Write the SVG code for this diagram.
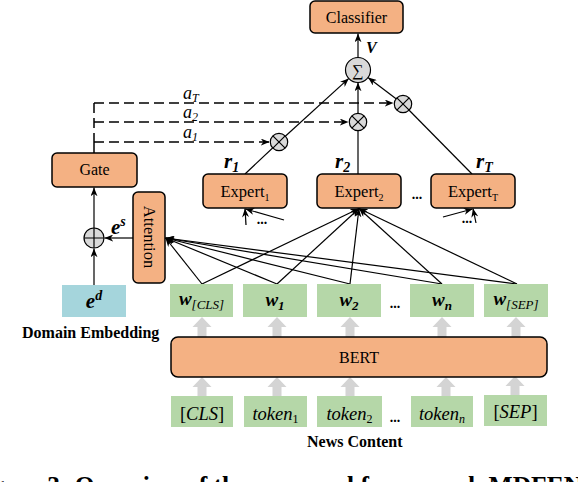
<svg xmlns="http://www.w3.org/2000/svg" width="578" height="482" viewBox="0 0 578 482">
<defs>
<style>
.box{fill:#f4b183;stroke:#000;stroke-width:1.5}
.wbox{fill:#b5d7a8}
.dbox{fill:#a5d5dc}
.t{font-family:"Liberation Serif",serif;fill:#000}
.bi{font-family:"Liberation Serif",serif;font-weight:bold;font-style:italic;fill:#000}
.it{font-family:"Liberation Serif",serif;font-style:italic;fill:#000}
.b{font-family:"Liberation Serif",serif;font-weight:bold;fill:#000}
.ln{stroke:#000;stroke-width:1.2;fill:none}
.dash{stroke:#000;stroke-width:1.5;fill:none;stroke-dasharray:10 5}
.op{fill:#d9d9d9;stroke:#000;stroke-width:1.2}
.ga{fill:#d4d4d4}
</style>
<marker id="ah" viewBox="0 0 10 8" refX="10" refY="4" markerWidth="9" markerHeight="7" markerUnits="userSpaceOnUse" orient="auto"><path d="M0,0 L10,4 L0,8 L3,4 z" fill="#000"/></marker>
<path id="garrow" d="M0,0 L9.5,10 L4.5,10 L4.5,20 L-4.5,20 L-4.5,10 L-9.5,10 Z"/>
</defs>
<rect width="578" height="482" fill="#fff"/>

<g id="gray-arrows" class="ga">
<use href="#garrow" x="202" y="317"/>
<use href="#garrow" x="277" y="317"/>
<use href="#garrow" x="350" y="317"/>
<use href="#garrow" x="442" y="317"/>
<use href="#garrow" x="516" y="317"/>
<use href="#garrow" x="202" y="377"/>
<use href="#garrow" x="277" y="377"/>
<use href="#garrow" x="350" y="377"/>
<use href="#garrow" x="446" y="377"/>
<use href="#garrow" x="515" y="376"/>
</g>

<g id="connectors">
<path class="ln" d="M358,57.5 L358,33.5" marker-end="url(#ah)"/>
<path class="ln" d="M245,174 L279,142"/>
<path class="ln" d="M279,142 L348.8,78.4" marker-end="url(#ah)"/>
<path class="ln" d="M358,174 L358,122"/>
<path class="ln" d="M358,122 L358,82.5" marker-end="url(#ah)"/>
<path class="ln" d="M472,174 L403,104"/>
<path class="ln" d="M403,104 L368,77.5" marker-end="url(#ah)"/>
<path class="dash" d="M94,103 L393.5,103" marker-end="url(#ah)"/>
<path class="dash" d="M94,122 L348.5,122" marker-end="url(#ah)"/>
<path class="dash" d="M94,142 L269.5,142" marker-end="url(#ah)"/>
<path class="dash" d="M94,103 L94,142"/>
<path class="ln" d="M94,142 L94,153" style="stroke-width:1.5"/>
<path class="ln" d="M94,285 L94,248.5" marker-end="url(#ah)"/>
<path class="ln" d="M94,228 L94,187.5" marker-end="url(#ah)"/>
<path class="ln" d="M133,238 L104.5,238" marker-end="url(#ah)"/>
<path class="ln" d="M202,284 L165.5,238" marker-end="url(#ah)"/>
<path class="ln" d="M277,284 L165.5,238" marker-end="url(#ah)"/>
<path class="ln" d="M350,284 L165.5,238" marker-end="url(#ah)"/>
<path class="ln" d="M442,284 L165.5,238" marker-end="url(#ah)"/>
<path class="ln" d="M517,284 L165.5,238" marker-end="url(#ah)"/>
<path class="ln" d="M202,284 L359,208.5" marker-end="url(#ah)"/>
<path class="ln" d="M277,284 L359,208.5" marker-end="url(#ah)"/>
<path class="ln" d="M350,284 L359,208.5" marker-end="url(#ah)"/>
<path class="ln" d="M442,284 L359,208.5" marker-end="url(#ah)"/>
<path class="ln" d="M517,284 L359,208.5" marker-end="url(#ah)"/>
<path class="ln" d="M246,225 L245,208.5" marker-end="url(#ah)"/>
<path class="ln" d="M284,220 L245.5,209" marker-end="url(#ah)"/>
<path class="ln" d="M443,217 L472.5,209" marker-end="url(#ah)"/>
<path class="ln" d="M476,223 L473,208.5" marker-end="url(#ah)"/>
</g>

<g id="labels">
<text class="it" x="183" y="99" font-size="18">a<tspan font-size="12" dy="3">T</tspan></text>
<text class="it" x="183" y="118" font-size="18">a<tspan font-size="12" dy="3">2</tspan></text>
<text class="it" x="183" y="138" font-size="18">a<tspan font-size="12" dy="3">1</tspan></text>
<text class="bi" x="366" y="53" font-size="16">V</text>
<text class="bi" x="224" y="168" font-size="21">r<tspan font-size="14" dy="4">1</tspan></text>
<text class="bi" x="335" y="168" font-size="21">r<tspan font-size="14" dy="4">2</tspan></text>
<text class="bi" x="476" y="168" font-size="21">r<tspan font-size="14" dy="4">T</tspan></text>
<text class="bi" x="111" y="234" font-size="21">e<tspan font-size="14" dy="-8">s</tspan></text>
<text class="b" x="417" y="199" font-size="14" text-anchor="middle">...</text>
<text class="b" x="262" y="224" font-size="14" text-anchor="middle">...</text>
<text class="b" x="467" y="223" font-size="14" text-anchor="middle">...</text>
<text class="b" x="395" y="308" font-size="14" text-anchor="middle">...</text>
<text class="b" x="395" y="422" font-size="14" text-anchor="middle">...</text>
<text class="b" x="22" y="338" font-size="16">Domain Embedding</text>
<text class="b" x="307" y="447" font-size="16">News Content</text>
<text class="b" x="-31" y="494" font-size="25.5">Figure 3: Overview of the proposed framework MDFEND.</text>
</g>

<g id="sum">
<circle class="op" cx="358" cy="70" r="12.5"/>
<text class="t" x="358" y="76" font-size="16" text-anchor="middle">∑</text>
</g>
<g id="mult-1">
<circle class="op" cx="279" cy="142" r="8.7"/>
<path class="ln" d="M272.85,135.85 L285.15,148.15 M285.15,135.85 L272.85,148.15"/>
</g>
<g id="mult-2">
<circle class="op" cx="358" cy="122" r="8.7"/>
<path class="ln" d="M351.85,115.85 L364.15,128.15 M364.15,115.85 L351.85,128.15"/>
</g>
<g id="mult-T">
<circle class="op" cx="403" cy="104" r="8.7"/>
<path class="ln" d="M396.85,97.85 L409.15,110.15 M409.15,97.85 L396.85,110.15"/>
</g>
<g id="add">
<circle class="op" cx="94" cy="238" r="10"/>
<path class="ln" d="M84,238 L104,238 M94,228 L94,248"/>
</g>

<g id="classifier">
<rect class="box" x="310" y="1" width="93" height="32" rx="5"/>
<text class="t" x="356.5" y="22.5" font-size="16" text-anchor="middle">Classifier</text>
</g>
<g id="gate">
<rect class="box" x="52" y="153" width="85" height="34" rx="5"/>
<text class="t" x="94.5" y="175" font-size="16" text-anchor="middle">Gate</text>
</g>
<g id="attention">
<rect class="box" x="133" y="192" width="32" height="91" rx="5"/>
<text class="t" font-size="16.5" text-anchor="middle" transform="translate(149,237) rotate(90)" y="5">Attention</text>
</g>
<g id="expert-1">
<rect class="box" x="203" y="174" width="84" height="34" rx="5"/>
<text class="t" x="245" y="197" font-size="16.5" text-anchor="middle">Expert<tspan font-size="10" dy="4">1</tspan></text>
</g>
<g id="expert-2">
<rect class="box" x="317" y="174" width="84" height="34" rx="5"/>
<text class="t" x="359" y="197" font-size="16.5" text-anchor="middle">Expert<tspan font-size="10" dy="4">2</tspan></text>
</g>
<g id="expert-T">
<rect class="box" x="431" y="174" width="84" height="34" rx="5"/>
<text class="t" x="473" y="197" font-size="16.5" text-anchor="middle">Expert<tspan font-size="10" dy="4">T</tspan></text>
</g>
<g id="domain-embedding">
<rect class="dbox" x="62" y="285" width="64" height="32"/>
<text class="bi" x="94" y="308" font-size="21" text-anchor="middle">e<tspan font-size="14" dy="-8">d</tspan></text>
</g>
<g id="w-cls">
<rect class="wbox" x="170" y="284" width="63" height="33"/>
<text class="bi" x="201.5" y="305" font-size="19" text-anchor="middle">w<tspan class="it" font-weight="normal" font-size="13" dy="4">[CLS]</tspan></text>
</g>
<g id="w-1">
<rect class="wbox" x="243" y="284" width="64" height="33"/>
<text class="bi" x="275" y="306" font-size="19" text-anchor="middle">w<tspan font-size="13" dy="4">1</tspan></text>
</g>
<g id="w-2">
<rect class="wbox" x="317" y="284" width="64" height="33"/>
<text class="bi" x="349" y="306" font-size="19" text-anchor="middle">w<tspan font-size="13" dy="4">2</tspan></text>
</g>
<g id="w-n">
<rect class="wbox" x="410" y="284" width="64" height="33"/>
<text class="bi" x="442" y="306" font-size="19" text-anchor="middle">w<tspan font-size="13" dy="4">n</tspan></text>
</g>
<g id="w-sep">
<rect class="wbox" x="484" y="284" width="64" height="33"/>
<text class="bi" x="516" y="305" font-size="19" text-anchor="middle">w<tspan class="it" font-weight="normal" font-size="13" dy="4">[SEP]</tspan></text>
</g>
<g id="bert">
<rect class="box" x="171" y="337" width="376" height="40" rx="7"/>
<text class="t" x="359" y="363" font-size="16" text-anchor="middle">BERT</text>
</g>
<g id="tok-cls">
<rect class="wbox" x="171" y="396" width="62" height="31"/>
<text class="it" x="202" y="420" font-size="18.5" text-anchor="middle"><tspan font-style="normal">[</tspan>CLS<tspan font-style="normal">]</tspan></text>
</g>
<g id="tok-1">
<rect class="wbox" x="244" y="396" width="63" height="31"/>
<text class="it" x="275.5" y="420" font-size="18.5" text-anchor="middle">token<tspan font-style="normal" font-size="12" dy="3">1</tspan></text>
</g>
<g id="tok-2">
<rect class="wbox" x="317" y="396" width="65" height="31"/>
<text class="it" x="349.5" y="420" font-size="18.5" text-anchor="middle">token<tspan font-style="normal" font-size="12" dy="3">2</tspan></text>
</g>
<g id="tok-n">
<rect class="wbox" x="411" y="396" width="62" height="31"/>
<text class="it" x="442" y="420" font-size="18.5" text-anchor="middle">token<tspan font-size="12" dy="3">n</tspan></text>
</g>
<g id="tok-sep">
<rect class="wbox" x="484" y="395" width="63" height="31"/>
<text class="it" x="515.5" y="418" font-size="18.5" text-anchor="middle"><tspan font-style="normal">[</tspan>SEP<tspan font-style="normal">]</tspan></text>
</g>
</svg>
